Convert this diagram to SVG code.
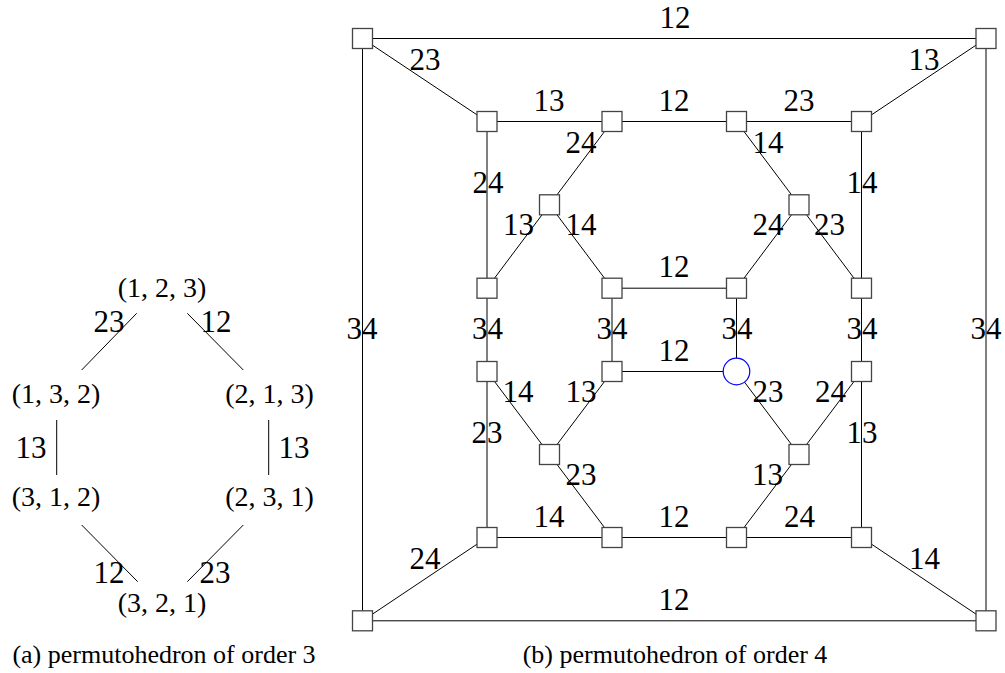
<svg xmlns="http://www.w3.org/2000/svg" width="1005" height="673" viewBox="0 0 1005 673">
<style>
.e{stroke:#000;stroke-width:1;fill:none}
.n{fill:#fff;stroke:#444;stroke-width:1.3}
.c{fill:#fff;stroke:#0000ff;stroke-width:1.2}
text{font-family:"Liberation Serif","Times New Roman",serif;fill:#000;text-anchor:middle}
.l{font-size:31px}
.t{font-size:28px}
.cap{font-size:26px}
</style>
<rect width="1005" height="673" fill="#fff"/>
<!-- (a) permutohedron of order 3 -->
<g id="edges-a">
<line class="e" x1="136.7" y1="313.3" x2="81.7" y2="370"/>
<line class="e" x1="187.3" y1="313.3" x2="243.3" y2="370"/>
<line class="e" x1="56.7" y1="420" x2="56.7" y2="475"/>
<line class="e" x1="268.7" y1="420" x2="268.7" y2="475"/>
<line class="e" x1="81.7" y1="525" x2="137.7" y2="581.7"/>
<line class="e" x1="243.3" y1="525" x2="187.3" y2="581.7"/>
<text class="l" x="109" y="332">23</text>
<text class="l" x="216" y="332">12</text>
<text class="l" x="31" y="458">13</text>
<text class="l" x="294" y="458">13</text>
<text class="l" x="109" y="583">12</text>
<text class="l" x="215" y="583">23</text>
</g>
<g id="p123"><text class="t" x="162" y="297">(1, 2, 3)</text></g>
<g id="p132"><text class="t" x="56" y="403">(1, 3, 2)</text></g>
<g id="p213"><text class="t" x="269.5" y="403">(2, 1, 3)</text></g>
<g id="p312"><text class="t" x="56" y="506">(3, 1, 2)</text></g>
<g id="p231"><text class="t" x="269.5" y="506">(2, 3, 1)</text></g>
<g id="p321"><text class="t" x="162" y="612">(3, 2, 1)</text></g>
<text class="cap" x="164" y="663">(a) permutohedron of order 3</text>

<!-- (b) permutohedron of order 4 -->
<g id="edges-b">
<line class="e" x1="362.5" y1="38.5" x2="986" y2="38.5"/>
<line class="e" x1="362.5" y1="620.8" x2="986" y2="620.8"/>
<line class="e" x1="362.5" y1="38.5" x2="362.5" y2="620.8"/>
<line class="e" x1="986" y1="38.5" x2="986" y2="620.8"/>
<line class="e" x1="362.5" y1="38.5" x2="487" y2="121.5"/>
<line class="e" x1="986" y1="38.5" x2="861.5" y2="121.5"/>
<line class="e" x1="362.5" y1="620.8" x2="487" y2="537.5"/>
<line class="e" x1="986" y1="620.8" x2="861.5" y2="537.5"/>
<line class="e" x1="487" y1="121.5" x2="861.5" y2="121.5"/>
<line class="e" x1="487" y1="537.5" x2="861.5" y2="537.5"/>
<line class="e" x1="487" y1="121.5" x2="487" y2="537.5"/>
<line class="e" x1="861.5" y1="121.5" x2="861.5" y2="537.5"/>
<line class="e" x1="612" y1="121.5" x2="549.5" y2="204.8"/>
<line class="e" x1="736.5" y1="121.5" x2="799" y2="204.8"/>
<line class="e" x1="549.5" y1="204.8" x2="487" y2="288.2"/>
<line class="e" x1="549.5" y1="204.8" x2="612" y2="288.2"/>
<line class="e" x1="799" y1="204.8" x2="736.5" y2="288.2"/>
<line class="e" x1="799" y1="204.8" x2="861.5" y2="288.2"/>
<line class="e" x1="612" y1="288.2" x2="736.5" y2="288.2"/>
<line class="e" x1="612" y1="288.2" x2="612" y2="371.5"/>
<line class="e" x1="736.5" y1="288.2" x2="736.5" y2="371.5"/>
<line class="e" x1="612" y1="371.5" x2="736.5" y2="371.5"/>
<line class="e" x1="487" y1="371.5" x2="549.5" y2="454.5"/>
<line class="e" x1="612" y1="371.5" x2="549.5" y2="454.5"/>
<line class="e" x1="736.5" y1="371.5" x2="799" y2="454.5"/>
<line class="e" x1="861.5" y1="371.5" x2="799" y2="454.5"/>
<line class="e" x1="549.5" y1="454.5" x2="612" y2="537.5"/>
<line class="e" x1="799" y1="454.5" x2="736.5" y2="537.5"/>
<text class="l" x="675" y="27.5">12</text>
<text class="l" x="425" y="70">23</text>
<text class="l" x="924" y="70">13</text>
<text class="l" x="549" y="110.7">13</text>
<text class="l" x="674" y="110.7">12</text>
<text class="l" x="799" y="110.7">23</text>
<text class="l" x="581" y="152.7">24</text>
<text class="l" x="768" y="152.7">14</text>
<text class="l" x="488" y="193.3">24</text>
<text class="l" x="862" y="193.3">14</text>
<text class="l" x="518.5" y="235">13</text>
<text class="l" x="581" y="235">14</text>
<text class="l" x="768" y="235">24</text>
<text class="l" x="829.5" y="235">23</text>
<text class="l" x="674" y="277">12</text>
<text class="l" x="362" y="339">34</text>
<text class="l" x="487.5" y="339">34</text>
<text class="l" x="612" y="339">34</text>
<text class="l" x="737" y="339">34</text>
<text class="l" x="862" y="339">34</text>
<text class="l" x="986" y="339">34</text>
<text class="l" x="674" y="360.5">12</text>
<text class="l" x="518" y="401.7">14</text>
<text class="l" x="581" y="401.7">13</text>
<text class="l" x="768" y="401.7">23</text>
<text class="l" x="830.5" y="401.7">24</text>
<text class="l" x="487" y="443.3">23</text>
<text class="l" x="862" y="443.3">13</text>
<text class="l" x="581" y="485">23</text>
<text class="l" x="767.5" y="485">13</text>
<text class="l" x="549" y="526.7">14</text>
<text class="l" x="674" y="526.7">12</text>
<text class="l" x="799.5" y="526.7">24</text>
<text class="l" x="425" y="569.3">24</text>
<text class="l" x="924.5" y="569.3">14</text>
<text class="l" x="674" y="610">12</text>
</g>
<g id="n-tl"><rect class="n" x="352.5" y="28.5" width="20" height="20"/></g>
<g id="n-tr"><rect class="n" x="976" y="28.5" width="20" height="20"/></g>
<g id="n-bl"><rect class="n" x="352.5" y="610.8" width="20" height="20"/></g>
<g id="n-br"><rect class="n" x="976" y="610.8" width="20" height="20"/></g>
<g id="n-a1"><rect class="n" x="477" y="111.5" width="20" height="20"/></g>
<g id="n-a2"><rect class="n" x="602" y="111.5" width="20" height="20"/></g>
<g id="n-a3"><rect class="n" x="726.5" y="111.5" width="20" height="20"/></g>
<g id="n-a4"><rect class="n" x="851.5" y="111.5" width="20" height="20"/></g>
<g id="n-b1"><rect class="n" x="539.5" y="194.8" width="20" height="20"/></g>
<g id="n-b2"><rect class="n" x="789" y="194.8" width="20" height="20"/></g>
<g id="n-c1"><rect class="n" x="477" y="278.2" width="20" height="20"/></g>
<g id="n-c2"><rect class="n" x="602" y="278.2" width="20" height="20"/></g>
<g id="n-c3"><rect class="n" x="726.5" y="278.2" width="20" height="20"/></g>
<g id="n-c4"><rect class="n" x="851.5" y="278.2" width="20" height="20"/></g>
<g id="n-d1"><rect class="n" x="477" y="361.5" width="20" height="20"/></g>
<g id="n-d2"><rect class="n" x="602" y="361.5" width="20" height="20"/></g>
<g id="n-d3"><circle class="c" cx="736.5" cy="371.5" r="13.3"/></g>
<g id="n-d4"><rect class="n" x="851.5" y="361.5" width="20" height="20"/></g>
<g id="n-e1"><rect class="n" x="539.5" y="444.5" width="20" height="20"/></g>
<g id="n-e2"><rect class="n" x="789" y="444.5" width="20" height="20"/></g>
<g id="n-f1"><rect class="n" x="477" y="527.5" width="20" height="20"/></g>
<g id="n-f2"><rect class="n" x="602" y="527.5" width="20" height="20"/></g>
<g id="n-f3"><rect class="n" x="726.5" y="527.5" width="20" height="20"/></g>
<g id="n-f4"><rect class="n" x="851.5" y="527.5" width="20" height="20"/></g>
<text class="cap" x="675" y="663">(b) permutohedron of order 4</text>
</svg>
